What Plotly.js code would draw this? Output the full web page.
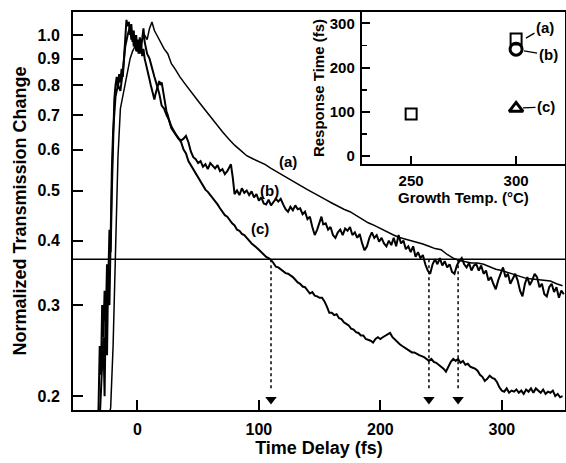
<!DOCTYPE html>
<html>
<head>
<meta charset="utf-8">
<script src="https://cdn.plot.ly/plotly-3.0.1.min.js"></script>
<style>html,body{margin:0;padding:0;background:#fff;}#plot{width:566px;height:463px;}</style>
</head>
<body>
<div id="plot"></div>
<script>
// ---- Curve (a) ----
const xA = [-30,-26,-22,-20,-18,-16,-14,-12,-10,-8,-6,-4,-2,0,2,4,6,8,10,12,14,16,18,20,22,25,28,31,35,40,45,50,55,60,65,70,75,80,85,90,95,100,105,110,115,120,125,130,135,140,145,150,155,160,165,170,175,180,185,190,195,200,205,210,215,220,225,230,235,240,245,250,255,260,265,270,275,280,285,290,295,300,305,310,315,320,325,330,335,340,345,350];
const yA = [0.15,0.17,0.19,0.25,0.40,0.58,0.72,0.76,0.80,0.85,0.90,0.93,0.95,0.93,0.96,0.98,1.00,0.98,1.03,1.06,1.02,1.00,0.98,0.965,0.94,0.92,0.88,0.86,0.83,0.80,0.77,0.745,0.72,0.695,0.672,0.65,0.63,0.612,0.598,0.584,0.576,0.568,0.562,0.552,0.543,0.534,0.526,0.518,0.51,0.502,0.494,0.487,0.48,0.473,0.466,0.46,0.455,0.447,0.44,0.433,0.428,0.422,0.416,0.411,0.406,0.403,0.40,0.398,0.394,0.39,0.386,0.384,0.376,0.37,0.366,0.364,0.362,0.362,0.36,0.356,0.352,0.35,0.347,0.344,0.34,0.338,0.337,0.336,0.335,0.334,0.33,0.327];

// ---- Curve (b) ----
const xB = [-32,-30,-28,-27,-26,-25,-24,-23,-22,-21,-20,-19,-18,-16,-14,-12,-10,-8,-6,-5,-4,-3,-2,-1,0,1,2,3,4,5,6,8,10,12,14,16,18,20,22,24,26,28,30,32,34,36,38,40,42,44,46,48,50,52,54,56,58,60,62,64,66,68,70,72,74,76,77,78.5,80,82,84,86,88,90,92,94,96,98,100,102,104,106,108,110,112,114,116,118,120,122,124,126,128,130,132,134,136,138,140,142,144,146,148,150,151.5,153,155,157,159,161,163,165,167,169,171,173,175,177,179,181,183,185,187,189,191,193,195,197,199,201,203,205,207,209,211,213,215,217,219,221,223,225,227,229,231,233,235,237,239,241,243,245,247,249,251,253,255,257,259,261,263,265,267,269,271,273,275,277,279,281,283,285,287,289,291,293,295,297,299,301,303,305,307,309,311,313,315,317,319,321,323,325,327,329,331,333,335,337,339,341,343,345,347,349,351];
const yB = [0.16,0.20,0.26,0.20,0.30,0.24,0.35,0.30,0.45,0.55,0.65,0.72,0.76,0.80,0.78,0.85,0.95,1.00,1.04,0.98,1.02,0.95,1.00,0.93,0.97,0.92,0.99,0.94,1.00,1.03,0.97,0.92,0.90,0.86,0.83,0.80,0.77,0.73,0.72,0.70,0.685,0.66,0.65,0.64,0.63,0.625,0.63,0.638,0.62,0.595,0.58,0.575,0.565,0.57,0.556,0.562,0.55,0.565,0.558,0.552,0.56,0.545,0.55,0.538,0.545,0.558,0.562,0.53,0.492,0.50,0.49,0.505,0.495,0.50,0.49,0.498,0.485,0.492,0.478,0.485,0.472,0.47,0.48,0.468,0.475,0.482,0.476,0.482,0.47,0.46,0.455,0.465,0.458,0.468,0.46,0.462,0.45,0.455,0.44,0.445,0.425,0.41,0.42,0.435,0.445,0.43,0.432,0.42,0.425,0.41,0.405,0.415,0.42,0.41,0.422,0.418,0.425,0.41,0.415,0.405,0.412,0.395,0.383,0.39,0.405,0.415,0.405,0.41,0.398,0.405,0.395,0.39,0.40,0.392,0.405,0.39,0.41,0.395,0.40,0.385,0.39,0.38,0.39,0.372,0.38,0.37,0.375,0.36,0.35,0.345,0.36,0.368,0.36,0.37,0.358,0.365,0.355,0.36,0.348,0.345,0.358,0.365,0.37,0.36,0.355,0.362,0.35,0.358,0.36,0.35,0.358,0.345,0.35,0.335,0.34,0.33,0.322,0.335,0.345,0.355,0.34,0.345,0.33,0.338,0.345,0.335,0.32,0.312,0.33,0.34,0.328,0.335,0.345,0.34,0.325,0.33,0.315,0.312,0.325,0.33,0.318,0.325,0.31,0.32,0.315];

// ---- Curve (c) ----
const xC = [-34,-32,-31,-30,-29,-28,-27,-26,-25,-24,-23,-22,-21,-20,-19,-18,-17,-16,-15,-14,-13,-12,-11,-10,-9,-8,-7,-6,-5,-4,-3,-2,-1,0,1,2,3,4,5,6,7,8,9,10,11,12,13,14,15,16,17,18,19,20,21,22,23,24,25,26,28,30,32,34,36,38,40,42,44,46,48,50,52,54,56,58,60,62,64,66,68,70,72,74,76,78,80,82,84,86,88,90,92,94,96,98,100,102,104,106,108,110,112,114,116,118,120,122,124,126,128,130,132,134,136,138,140,142,144,146,148,150,152,154,156,158,160,162,164,166,168,170,172,174,176,178,180,182,184,186,188,190,192,194,196,198,200,202,204,206,208,210,212,214,216,218,220,222,224,226,228,230,232,234,236,238,240,242,244,246,248,250,252,254,256,258,260,262,264,266,268,270,272,274,276,278,280,282,284,286,288,290,292,294,296,298,300,302,304,306,308,310,312,314,316,318,320,322,324,326,328,330,332,334,336,338,340,342,344,346,348,350];
const yC = [0.15,0.19,0.25,0.22,0.30,0.26,0.32,0.28,0.36,0.33,0.42,0.38,0.50,0.62,0.75,0.80,0.83,0.79,0.84,0.81,0.86,0.83,0.90,0.98,1.07,1.04,1.06,1.00,1.05,0.97,1.02,0.95,1.00,0.93,0.98,0.92,0.96,0.91,0.94,0.90,0.88,0.86,0.85,0.82,0.80,0.78,0.76,0.75,0.77,0.79,0.80,0.815,0.80,0.81,0.78,0.75,0.73,0.71,0.70,0.685,0.665,0.65,0.64,0.63,0.62,0.60,0.59,0.57,0.56,0.55,0.54,0.53,0.52,0.51,0.502,0.497,0.49,0.485,0.478,0.47,0.462,0.456,0.448,0.445,0.438,0.432,0.428,0.42,0.418,0.412,0.41,0.404,0.40,0.395,0.392,0.388,0.384,0.38,0.376,0.372,0.37,0.367,0.362,0.356,0.355,0.352,0.35,0.346,0.345,0.343,0.34,0.336,0.332,0.33,0.326,0.325,0.32,0.316,0.318,0.313,0.312,0.31,0.31,0.305,0.298,0.29,0.29,0.287,0.288,0.283,0.282,0.278,0.276,0.274,0.27,0.269,0.266,0.265,0.262,0.262,0.258,0.257,0.256,0.254,0.258,0.26,0.258,0.26,0.262,0.263,0.265,0.26,0.257,0.255,0.252,0.25,0.248,0.247,0.245,0.243,0.243,0.241,0.24,0.239,0.238,0.236,0.234,0.236,0.233,0.232,0.23,0.228,0.226,0.223,0.228,0.233,0.236,0.234,0.236,0.232,0.234,0.23,0.231,0.228,0.227,0.226,0.224,0.22,0.218,0.214,0.216,0.219,0.217,0.216,0.213,0.208,0.205,0.204,0.207,0.203,0.205,0.204,0.206,0.203,0.205,0.202,0.206,0.204,0.207,0.203,0.207,0.205,0.203,0.206,0.202,0.204,0.203,0.205,0.20,0.202,0.199,0.20];

// 1/e threshold and crossing times
const threshold = 0.368;
const crossX = [110, 240, 264];
const arrowBottom = 0.205;
const arrowTip = 0.197;

// main labels
const curveLabels = ['(a)', '(b)', '(c)'];
const labelX = [124, 109, 101];
const labelY = [0.568, 0.50, 0.423];

// inset data
const growthTemp = [250, 300, 300, 300];
const responseTime = [95, 265, 242, 108];
const insetSymbols = ['square-open', 'square-open', 'circle-open', 'triangle-up-open'];

const yTicks = [0.2, 0.3, 0.4, 0.5, 0.6, 0.7, 0.8, 0.9, 1.0];
const yTickText = ['0.2', '0.3', '0.4', '0.5', '0.6', '0.7', '0.8', '0.9', '1.0'];
const xTicks = [0, 100, 200, 300];

const FONT = 'Liberation Sans, Arial, sans-serif';
const blk = '#000';

const traces = [];
[[xA, yA, 1.5], [xB, yB, 2], [xC, yC, 2]].forEach(([x, y, w]) => {
  traces.push({x, y, type: 'scatter', mode: 'lines', line: {color: blk, width: w}, xaxis: 'x', yaxis: 'y', hoverinfo: 'skip'});
});
traces.push({x: [-53, 352], y: [threshold, threshold], type: 'scatter', mode: 'lines', line: {color: blk, width: 1.5}, xaxis: 'x', yaxis: 'y'});
crossX.forEach(cx => {
  traces.push({x: [cx, cx], y: [threshold, arrowBottom], type: 'scatter', mode: 'lines', line: {color: blk, width: 1.5, dash: 'dot'}, xaxis: 'x', yaxis: 'y'});
  traces.push({x: [cx], y: [arrowTip], type: 'scatter', mode: 'markers', marker: {symbol: 'triangle-down', size: 10, color: blk}, xaxis: 'x', yaxis: 'y'});
});
insetSymbols.forEach((s, i) => {
  traces.push({x: [growthTemp[i]], y: [responseTime[i]], type: 'scatter', mode: 'markers',
    marker: {symbol: s, size: s === 'square-open' ? 11 : 12, color: blk, line: {color: blk, width: s === 'square-open' ? 2 : 3}},
    xaxis: 'x2', yaxis: 'y2'});
});

const annotations = curveLabels.map((t, i) => ({
  x: labelX[i], y: Math.log10(labelY[i]), xref: 'x', yref: 'y', text: t, showarrow: false,
  font: {family: FONT, size: 15, color: blk}
}));
const insetLab = [
  {t: '(a)', x: 304.7, y: 267, ax: 19, ay: -11},
  {t: '(b)', x: 303.8, y: 238, ax: 24, ay: 4},
  {t: '(c)', x: 303.3, y: 109, ax: 23, ay: -1}
];
insetLab.forEach(o => annotations.push({
  x: o.x, y: o.y, xref: 'x2', yref: 'y2', text: o.t, showarrow: true, arrowhead: 0, arrowwidth: 1.3,
  arrowcolor: blk, ax: o.ax, ay: o.ay, font: {family: FONT, size: 15, color: blk}
}));

const layout = {
  width: 566, height: 463,
  margin: {l: 73, r: 1, t: 12, b: 53},
  paper_bgcolor: '#fff', plot_bgcolor: '#fff',
  showlegend: false,
  font: {family: FONT, color: blk, size: 16, weight: 'bold'},
  xaxis: {
    range: [-53, 352], tickvals: xTicks, ticks: 'inside', ticklen: 10, tickwidth: 2, tickcolor: blk,
    showline: true, linewidth: 2, linecolor: blk, mirror: true, showgrid: false, zeroline: false,
    tickfont: {family: FONT, size: 16, weight: 'bold'}, ticklabelstandoff: 4,
    title: {text: 'Time Delay (fs)', font: {family: FONT, size: 18, weight: 'bold'}, standoff: 3}
  },
  yaxis: {
    type: 'log', range: [Math.log10(0.188), Math.log10(1.108)], tickvals: yTicks, ticktext: yTickText,
    ticks: 'inside', ticklen: 10, tickwidth: 2, tickcolor: blk,
    showline: true, linewidth: 2, linecolor: blk, mirror: true, showgrid: false, zeroline: false,
    tickfont: {family: FONT, size: 16, weight: 'bold'}, ticklabelstandoff: 8,
    title: {text: 'Normalized Transmission Change', font: {family: FONT, size: 18, weight: 'bold'}, standoff: 6}
  },
  xaxis2: {
    domain: [0.587, 1], anchor: 'y2', range: [226.5, 323.3], tickvals: [250, 300],
    ticks: 'inside', ticklen: 8, tickwidth: 2, tickcolor: blk,
    showline: true, linewidth: 2, linecolor: blk, mirror: true, showgrid: false, zeroline: false,
    tickfont: {family: FONT, size: 15, weight: 'bold'}, ticklabelstandoff: 2,
    title: {text: 'Growth Temp. (°C)', font: {family: FONT, size: 15, weight: 'bold'}, standoff: 2}
  },
  yaxis2: {
    domain: [0.618, 1], anchor: 'x2', range: [-18, 326], tickvals: [0, 100, 200, 300],
    ticks: 'inside', ticklen: 8, tickwidth: 2, tickcolor: blk,
    minor: {tickvals: [50, 150, 250], ticks: 'inside', ticklen: 5, tickwidth: 1.5, tickcolor: blk},
    showline: true, linewidth: 2, linecolor: blk, mirror: true, showgrid: false, zeroline: false,
    tickfont: {family: FONT, size: 15, weight: 'bold'}, ticklabelstandoff: 2,
    title: {text: 'Response Time (fs)', font: {family: FONT, size: 15, weight: 'bold'}, standoff: 2}
  },
  annotations
};

Plotly.newPlot('plot', traces, layout, {staticPlot: true, displayModeBar: false});
</script>
</body>
</html>
